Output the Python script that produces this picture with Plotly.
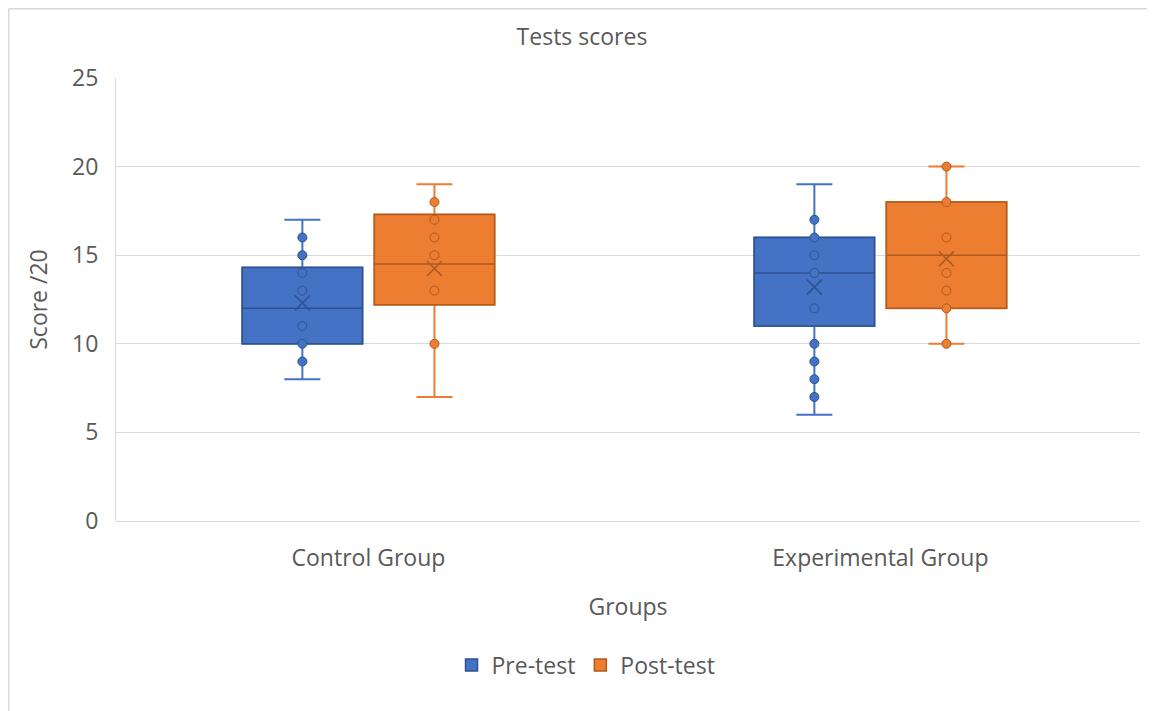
import plotly.graph_objects as go

groups = ["Control Group", "Experimental Group"]

# Pre-test box statistics
pre_q1 = [10, 11]
pre_median = [12, 14]
pre_q3 = [14.3, 16]
pre_min = [8, 6]
pre_max = [17, 19]
pre_mean = [12.3, 13.2]
pre_points = [[9, 10, 11, 13, 14, 15, 16], [7, 8, 9, 10, 12, 14, 15, 16, 17]]

# Post-test box statistics
post_q1 = [12.2, 12]
post_median = [14.5, 15]
post_q3 = [17.3, 18]
post_min = [7, 10]
post_max = [19, 20]
post_mean = [14.25, 14.8]
post_points = [[10, 13, 15, 16, 17, 18], [10, 12, 13, 14, 16, 18, 20]]

y_ticks = [0, 5, 10, 15, 20, 25]

FONT = "Open Sans, Noto Sans, sans-serif"
TXT = "#595959"
FS = 23

series = [
    ("Pre-test", "pre", "#4472C4", "#2F528F", pre_q1, pre_median, pre_q3, pre_min, pre_max, pre_mean, pre_points),
    ("Post-test", "post", "#ED7D31", "#AE5A21", post_q1, post_median, post_q3, post_min, post_max, post_mean, post_points),
]

fig = go.Figure()
for name, grp, fill, dark, q1, med, q3, lo, hi, mean, pts in series:
    # whiskers
    fig.add_trace(go.Box(
        name=name, legendgroup=grp, offsetgroup=grp, showlegend=False,
        x=groups, q1=q1, median=med, q3=q3, lowerfence=lo, upperfence=hi,
        fillcolor=fill, line=dict(color=fill, width=2), whiskerwidth=0.3,
        boxpoints=False, hoverinfo="skip",
    ))
    # box body + data points
    fig.add_trace(go.Box(
        name=name, legendgroup=grp, offsetgroup=grp, showlegend=True,
        x=groups, q1=q1, median=med, q3=q3, lowerfence=q1, upperfence=q3,
        y=pts,
        fillcolor=fill, line=dict(color=dark, width=1.5), whiskerwidth=0,
        boxpoints="all", jitter=0, pointpos=0,
        marker=dict(color=fill, size=9, line=dict(color=dark, width=1)),
    ))
    # mean markers
    fig.add_trace(go.Box(
        name=name, legendgroup=grp, offsetgroup=grp, showlegend=False,
        x=groups, q1=mean, median=mean, q3=mean, lowerfence=mean, upperfence=mean,
        y=[[m] for m in mean],
        fillcolor="rgba(0,0,0,0)", line=dict(color="rgba(0,0,0,0)", width=0),
        boxpoints="all", jitter=0, pointpos=0,
        marker=dict(symbol="x-thin", size=15, color=dark, line=dict(color=dark, width=1.6)),
    ))

W, H = 1147, 703
fig.update_layout(
    width=W, height=H,
    paper_bgcolor="white", plot_bgcolor="white",
    margin=dict(l=108, r=15, t=70, b=190, autoexpand=False),
    boxmode="group", boxgap=0.484, boxgroupgap=0.09,
    font=dict(family=FONT, color=TXT, size=FS),
    title=dict(text="Tests scores", x=574 / W, xref="container", xanchor="center",
               y=1 - 29 / H, yref="container", yanchor="middle",
               font=dict(family=FONT, size=FS, color=TXT)),
    showlegend=True,
    legend=dict(orientation="h", x=0.459, xanchor="center", y=-0.325, yanchor="middle",
                font=dict(family=FONT, size=FS, color=TXT), itemwidth=30, traceorder="normal"),
    xaxis=dict(
        type="category", range=[-0.493, 1.507], showgrid=False, zeroline=False,
        showline=False, ticks="outside", ticklen=16, tickcolor="rgba(0,0,0,0)",
        tickfont=dict(family=FONT, size=FS, color=TXT),
        title=dict(text="Groups", font=dict(family=FONT, size=FS, color=TXT), standoff=27),
    ),
    yaxis=dict(
        range=[0, 25], tickvals=y_ticks, showgrid=True, gridcolor="#D9D9D9", gridwidth=1,
        zeroline=True, zerolinecolor="#D9D9D9", zerolinewidth=1,
        showline=True, linecolor="#D9D9D9", linewidth=1,
        ticks="outside", ticklen=12, tickcolor="rgba(0,0,0,0)",
        tickfont=dict(family=FONT, size=FS, color=TXT),
        title=dict(text="Score /20", font=dict(family=FONT, size=FS, color=TXT), standoff=18),
    ),
    shapes=[
        dict(type="line", xref="paper", yref="paper", x0=-107.25 / 1024, x1=-107.25 / 1024,
             y0=512.25 / 443, y1=-190 / 443, line=dict(color="#D9D9D9", width=1.5)),
        dict(type="line", xref="paper", yref="paper", x0=-107.25 / 1024, x1=(W - 108) / 1024,
             y0=512.25 / 443, y1=512.25 / 443, line=dict(color="#D9D9D9", width=1.5)),
    ],
)

fig.write_html("out.html")
